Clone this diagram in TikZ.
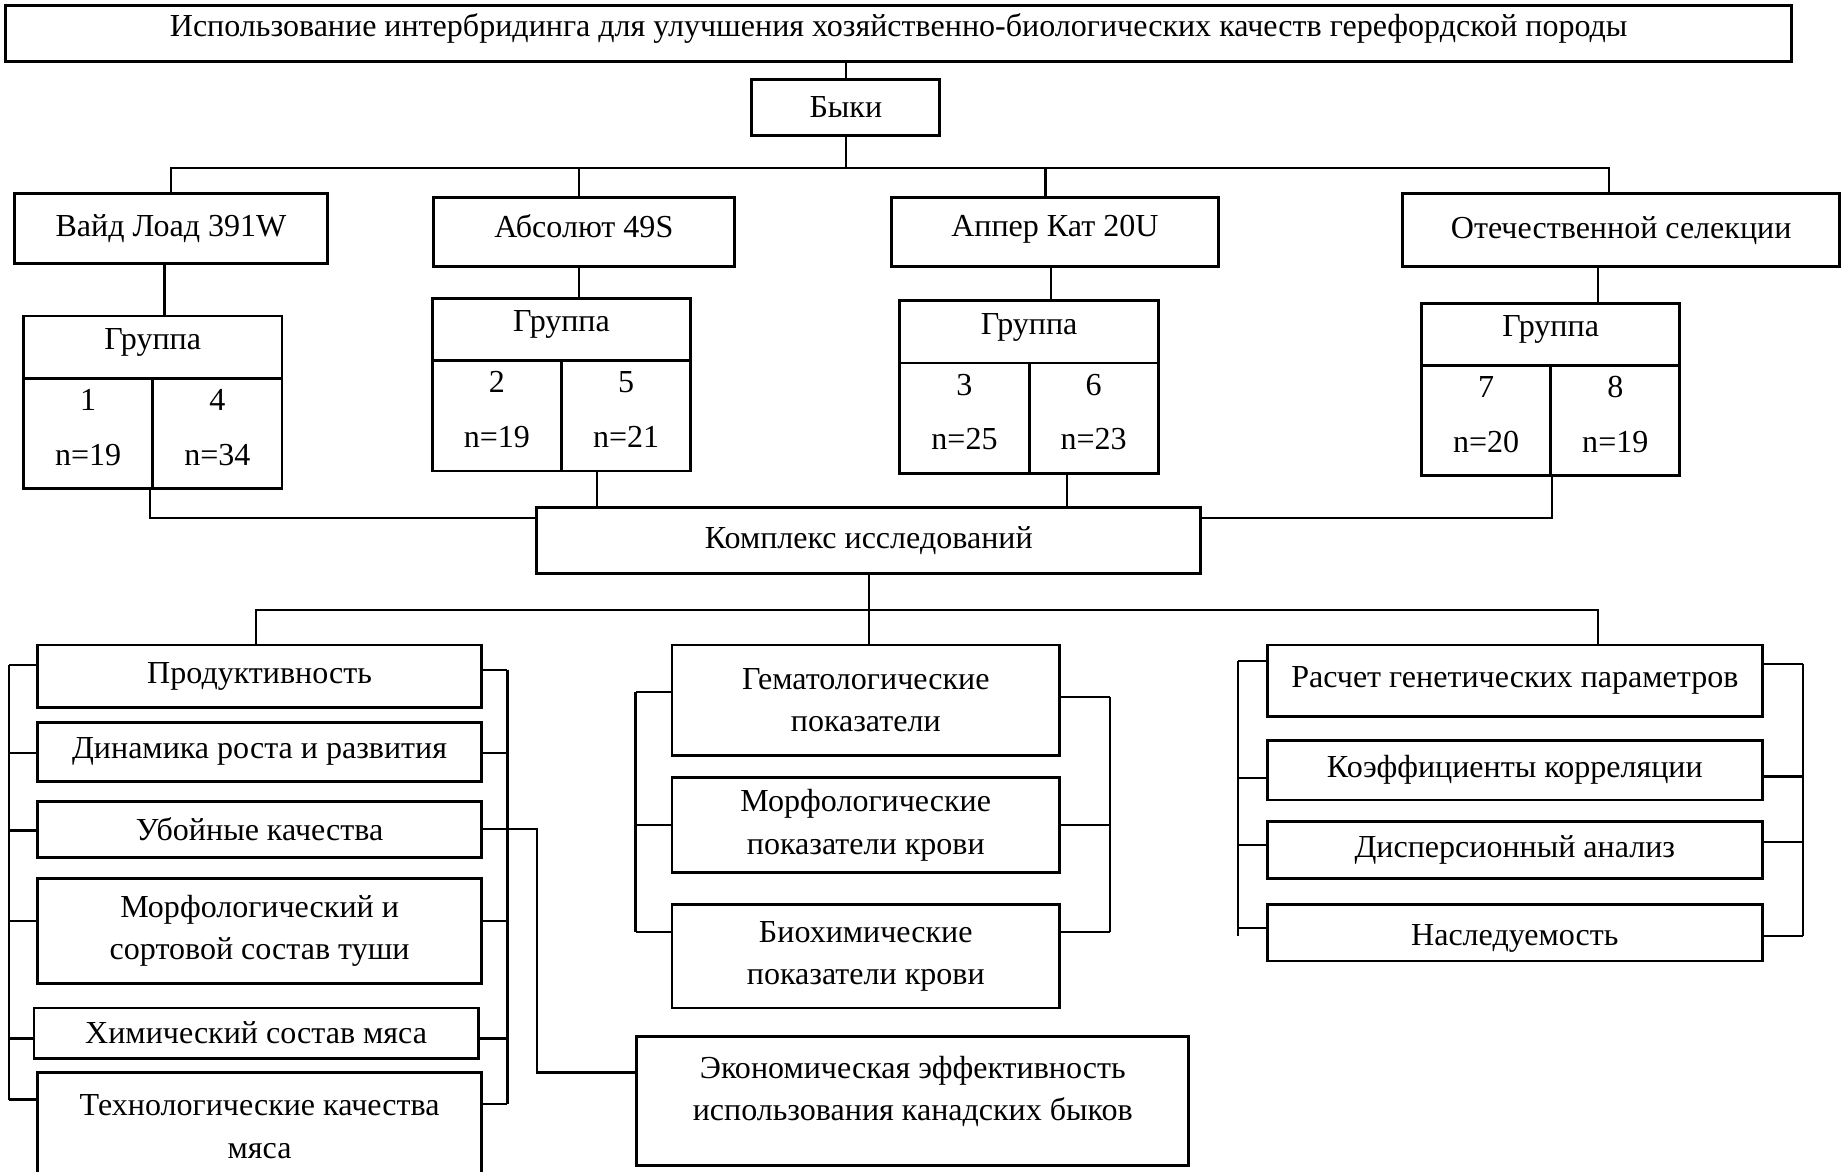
\documentclass[tikz,border=0pt]{standalone}
\usepackage{fontspec}
\setmainfont{Liberation Serif}
\usepackage{tikz}
\newcommand{\unitpx}{0.33pt}
\tikzset{sz/.style 2 args={minimum width=#1*\unitpx,minimum height=#2*\unitpx}}

\begin{document}
\begin{tikzpicture}[x=\unitpx,y=-\unitpx,line width=0.6pt]
\tikzstyle{every node}=[draw,rectangle,line width=0.8pt,inner sep=0pt,align=center,font=\fontsize{9}{11.9}\selectfont];
\useasboundingbox (0,0) rectangle (1568,997);
% top part
%   nodes
    \node[sz={1520}{47},text depth=4.7pt] (title) at (765,28.5) {Использование интербридинга для улучшения хозяйственно-биологических качеств герефордской породы};
    \node[sz={160}{47}] (byki) at (720,91.5) {Быки};
    \node[sz={267}{59}] (wl) at (145.5,194.5) {Вайд Лоад 391W};
    \node[sz={256}{59},text depth=3.3pt] (abs) at (497,197.5) {Абсолют 49S};
    \node[sz={278}{59},text depth=3.3pt] (app) at (898,197.5) {Аппер Кат 20U};
    \node[sz={372}{62}] (ote) at (1380,196) {Отечественной селекции};
%   groups
    \foreach \g/\x/\y/\a/\b/\na/\nb in {1/130/269/1/4/19/34,2/478/254/2/5/19/21,3/876/256/3/6/25/23,4/1320/258/7/8/20/19}{
      \node[sz={220}{53},text depth=4.5pt] (g\g) at (\x,\y+26.5) {Группа};
      \node[sz={110}{94},text depth=3.5pt] (ga\g) at (\x-55,\y+100) {\a\\[3.5pt]n=\na};
      \node[sz={110}{94},text depth=3.5pt] (gb\g) at (\x+55,\y+100) {\b\\[3.5pt]n=\nb};
    }
    \node[sz={565}{56}] (kompl) at (739.5,460) {Комплекс исследований};
    \coordinate (bus1) at (720,143);
    \coordinate (bus2) at (740,519);
%   edges
    \draw (title.south -| byki.north) -- (byki.north);
    \draw (byki.south) -- (bus1);
    \draw (wl.north) |- (bus1) -| (ote.north -| 1370,0);
    \draw (abs.north -| 493,0) -- (bus1 -| 493,0);
    \draw (app.north -| 890,0) -- (bus1 -| 890,0);
    \draw (wl.south -| 140,0) -- (g1.north -| 140,0);
    \draw (abs.south -| 493,0) -- (g2.north -| 493,0);
    \draw (app.south -| 895,0) -- (g3.north -| 895,0);
    \draw (ote.south -| 1360,0) -- (g4.north -| 1360,0);
    \draw (ga1.south -| 128,0) |- (kompl.west |- 0,441);
    \draw (gb2.south -| 508,0) -- (kompl.north -| 508,0);
    \draw (gb3.south -| 908,0) -- (kompl.north -| 908,0);
    \draw (ga4.south east) |- (kompl.east |- 0,441);
% bottom part
%   nodes
    \node[sz={378}{53}] (prod) at (221,575.5) {Продуктивность};
    \node[sz={378}{50}] (dyn) at (221,640) {Динамика роста и развития};
    \node[sz={378}{48}] (ub) at (221,706) {Убойные качества};
    \node[sz={378}{89}] (morf) at (221,792.5) {Морфологический и\\сортовой состав туши};
    \node[sz={378}{43}] (chem) at (218,879.5) {Химический состав мяса};
    \node[sz={378}{92}] (tech) at (221,959) {Технологические качества\\мяса};
    \node[sz={330}{94}] (gem) at (737,596) {Гематологические\\показатели};
    \node[sz={330}{81}] (mrf) at (737,702.5) {Морфологические\\показатели крови};
    \node[sz={330}{88}] (bio) at (737,814) {Биохимические\\показатели крови};
    \node[sz={470}{110},text depth=7pt] (econ) at (777,937) {Экономическая эффективность\\использования канадских быков};
    \node[sz={421}{61}] (rasch) at (1289.5,579.5) {Расчет генетических параметров};
    \node[sz={421}{51}] (koef) at (1289.5,655.5) {Коэффициенты корреляции};
    \node[sz={421}{49}] (disp) at (1289.5,723.5) {Дисперсионный анализ};
    \node[sz={421}{48},text height=9pt] (nasl) at (1289.5,794) {Наследуемость};
    \coordinate (l1) at (8,0);
    \coordinate (r1) at (432,0);
    \coordinate (l2) at (541,0);
    \coordinate (r2) at (945,0);
    \coordinate (l3) at (1054,0);
    \coordinate (r3) at (1535,0);
    \coordinate (ej) at (457,913);
%   edges
    \draw (kompl.south -| bus2) -- (gem.north -| bus2);
    \draw (prod.north -| 218,0) |- (bus2) -| (rasch.north -| 1360,0);
    \draw (ub.east) -| (ej) -- (econ.west |- ej);
%   brackets
    \foreach \n/\y in {prod/566,dyn/641,ub/707,morf/784,chem/884,tech/936}
      \draw (\n.west |- 0,\y) -- (l1 |- 0,\y);
    \foreach \n/\y in {prod/570,dyn/641,morf/784,chem/884,tech/940}
      \draw (\n.east |- 0,\y) -- (r1 |- 0,\y);
    \foreach \n/\y in {gem/589,mrf/702,bio/793}
      \draw (\n.west |- 0,\y) -- (l2 |- 0,\y);
    \foreach \n/\y in {gem/593,mrf/702,bio/793}
      \draw (\n.east |- 0,\y) -- (r2 |- 0,\y);
    \foreach \n/\y in {rasch/563,koef/662,disp/719,nasl/790}
      \draw (\n.west |- 0,\y) -- (l3 |- 0,\y);
    \foreach \n/\y in {rasch/565,koef/661,disp/717,nasl/797}
      \draw (\n.east |- 0,\y) -- (r3 |- 0,\y);
    \draw (l1 |- 0,566) -- (l1 |- 0,936);
    \draw (r1 |- 0,570) -- (r1 |- 0,940);
    \draw (l2 |- 0,589) -- (l2 |- 0,793);
    \draw (r2 |- 0,593) -- (r2 |- 0,793);
    \draw (l3 |- 0,563) -- (l3 |- 0,797);
    \draw (r3 |- 0,565) -- (r3 |- 0,797);
\end{tikzpicture}
\end{document}
